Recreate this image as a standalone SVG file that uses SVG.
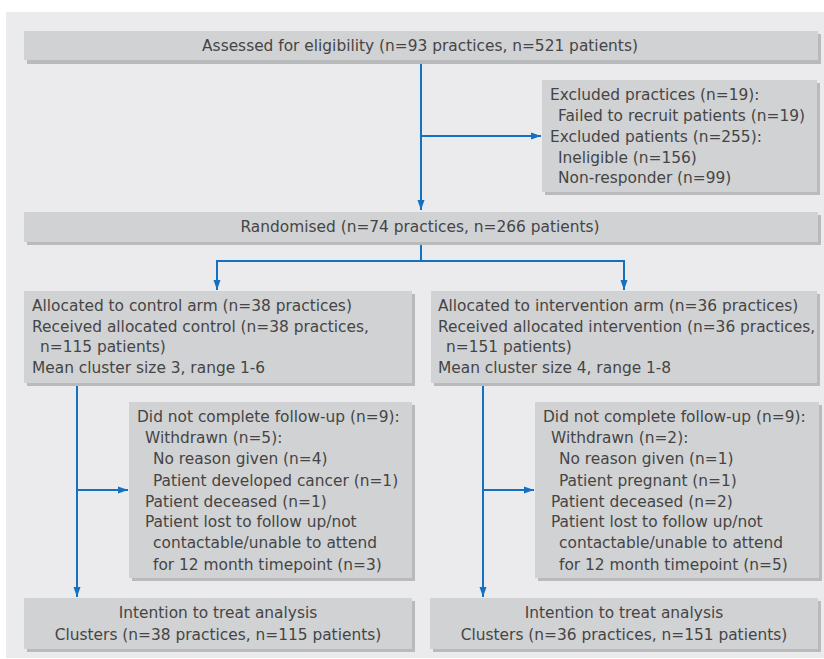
<svg xmlns="http://www.w3.org/2000/svg" width="824" height="659" viewBox="0 0 824 659">
<style>
.bg{fill:#ebebed}
.box{fill:#d1d2d4}
.sh{fill:#b9babc}
text{font-family:"DejaVu Sans","Liberation Sans",sans-serif;font-size:15.4px;fill:#454545}
.c{text-anchor:middle}
.ln{stroke:#1470c0;stroke-width:2;fill:none}
</style>
<defs>
<marker id="ah" markerWidth="10" markerHeight="8" refX="10" refY="4" orient="auto" markerUnits="userSpaceOnUse">
<path d="M0,0.5 L10,4 L0,7.5 Z" fill="#1470c0"/>
</marker>
</defs>
<rect class="bg" x="6" y="12" width="818" height="646"/>

<g id="connectors">
<path class="ln" d="M421,60 V210" marker-end="url(#ah)"/>
<path class="ln" d="M421,136 H541" marker-end="url(#ah)"/>
<path class="ln" d="M421,242 V261"/>
<path class="ln" d="M217,261 H624"/>
<path class="ln" d="M217,260 V290" marker-end="url(#ah)"/>
<path class="ln" d="M624,260 V290" marker-end="url(#ah)"/>
<path class="ln" d="M77,383 V597" marker-end="url(#ah)"/>
<path class="ln" d="M77,490 H128" marker-end="url(#ah)"/>
<path class="ln" d="M483,383 V597" marker-end="url(#ah)"/>
<path class="ln" d="M483,490 H534" marker-end="url(#ah)"/>
</g>

<g id="assessed">
<rect class="sh" x="27" y="34" width="794" height="30"/>
<rect class="box" x="24" y="31" width="794" height="29"/>
<text class="c" x="420" y="51">Assessed for eligibility (n=93 practices, n=521 patients)</text>
</g>

<g id="excluded">
<rect class="sh" x="545" y="83" width="275" height="112"/>
<rect class="box" x="542" y="80" width="275" height="112"/>
<text x="550" y="100">Excluded practices (n=19):</text>
<text x="558" y="121">Failed to recruit patients (n=19)</text>
<text x="550" y="142">Excluded patients (n=255):</text>
<text x="558" y="163">Ineligible (n=156)</text>
<text x="558" y="183">Non-responder (n=99)</text>
</g>

<g id="randomised">
<rect class="sh" x="27" y="215" width="794" height="30"/>
<rect class="box" x="24" y="212" width="794" height="30"/>
<text class="c" x="420" y="232">Randomised (n=74 practices, n=266 patients)</text>
</g>

<g id="control">
<rect class="sh" x="27" y="294" width="388" height="92"/>
<rect class="box" x="24" y="291" width="388" height="92"/>
<text x="32" y="311">Allocated to control arm (n=38 practices)</text>
<text x="32" y="332">Received allocated control (n=38 practices,</text>
<text x="40" y="352">n=115 patients)</text>
<text x="32" y="373">Mean cluster size 3, range 1-6</text>
</g>

<g id="intervention">
<rect class="sh" x="434" y="294" width="386" height="92"/>
<rect class="box" x="431" y="291" width="386" height="92"/>
<text x="438" y="311">Allocated to intervention arm (n=36 practices)</text>
<text x="438" y="332">Received allocated intervention (n=36 practices,</text>
<text x="446" y="352">n=151 patients)</text>
<text x="438" y="373">Mean cluster size 4, range 1-8</text>
</g>

<g id="followup-control">
<rect class="sh" x="132" y="405" width="283" height="176"/>
<rect class="box" x="129" y="402" width="283" height="176"/>
<text x="137" y="422">Did not complete follow-up (n=9):</text>
<text x="145" y="443">Withdrawn (n=5):</text>
<text x="153" y="464">No reason given (n=4)</text>
<text x="153" y="486">Patient developed cancer (n=1)</text>
<text x="145" y="507">Patient deceased (n=1)</text>
<text x="145" y="527">Patient lost to follow up/not</text>
<text x="153" y="548">contactable/unable to attend</text>
<text x="153" y="570">for 12 month timepoint (n=3)</text>
</g>

<g id="followup-intervention">
<rect class="sh" x="538" y="405" width="284" height="176"/>
<rect class="box" x="535" y="402" width="284" height="176"/>
<text x="543" y="422">Did not complete follow-up (n=9):</text>
<text x="551" y="443">Withdrawn (n=2):</text>
<text x="559" y="464">No reason given (n=1)</text>
<text x="559" y="486">Patient pregnant (n=1)</text>
<text x="551" y="507">Patient deceased (n=2)</text>
<text x="551" y="527">Patient lost to follow up/not</text>
<text x="559" y="548">contactable/unable to attend</text>
<text x="559" y="570">for 12 month timepoint (n=5)</text>
</g>

<g id="itt-control">
<rect class="sh" x="27" y="601" width="388" height="51"/>
<rect class="box" x="24" y="598" width="388" height="51"/>
<text class="c" x="218" y="618">Intention to treat analysis</text>
<text class="c" x="218" y="640">Clusters (n=38 practices, n=115 patients)</text>
</g>

<g id="itt-intervention">
<rect class="sh" x="433" y="601" width="388" height="51"/>
<rect class="box" x="430" y="598" width="388" height="51"/>
<text class="c" x="624" y="618">Intention to treat analysis</text>
<text class="c" x="624" y="640">Clusters (n=36 practices, n=151 patients)</text>
</g>
</svg>
